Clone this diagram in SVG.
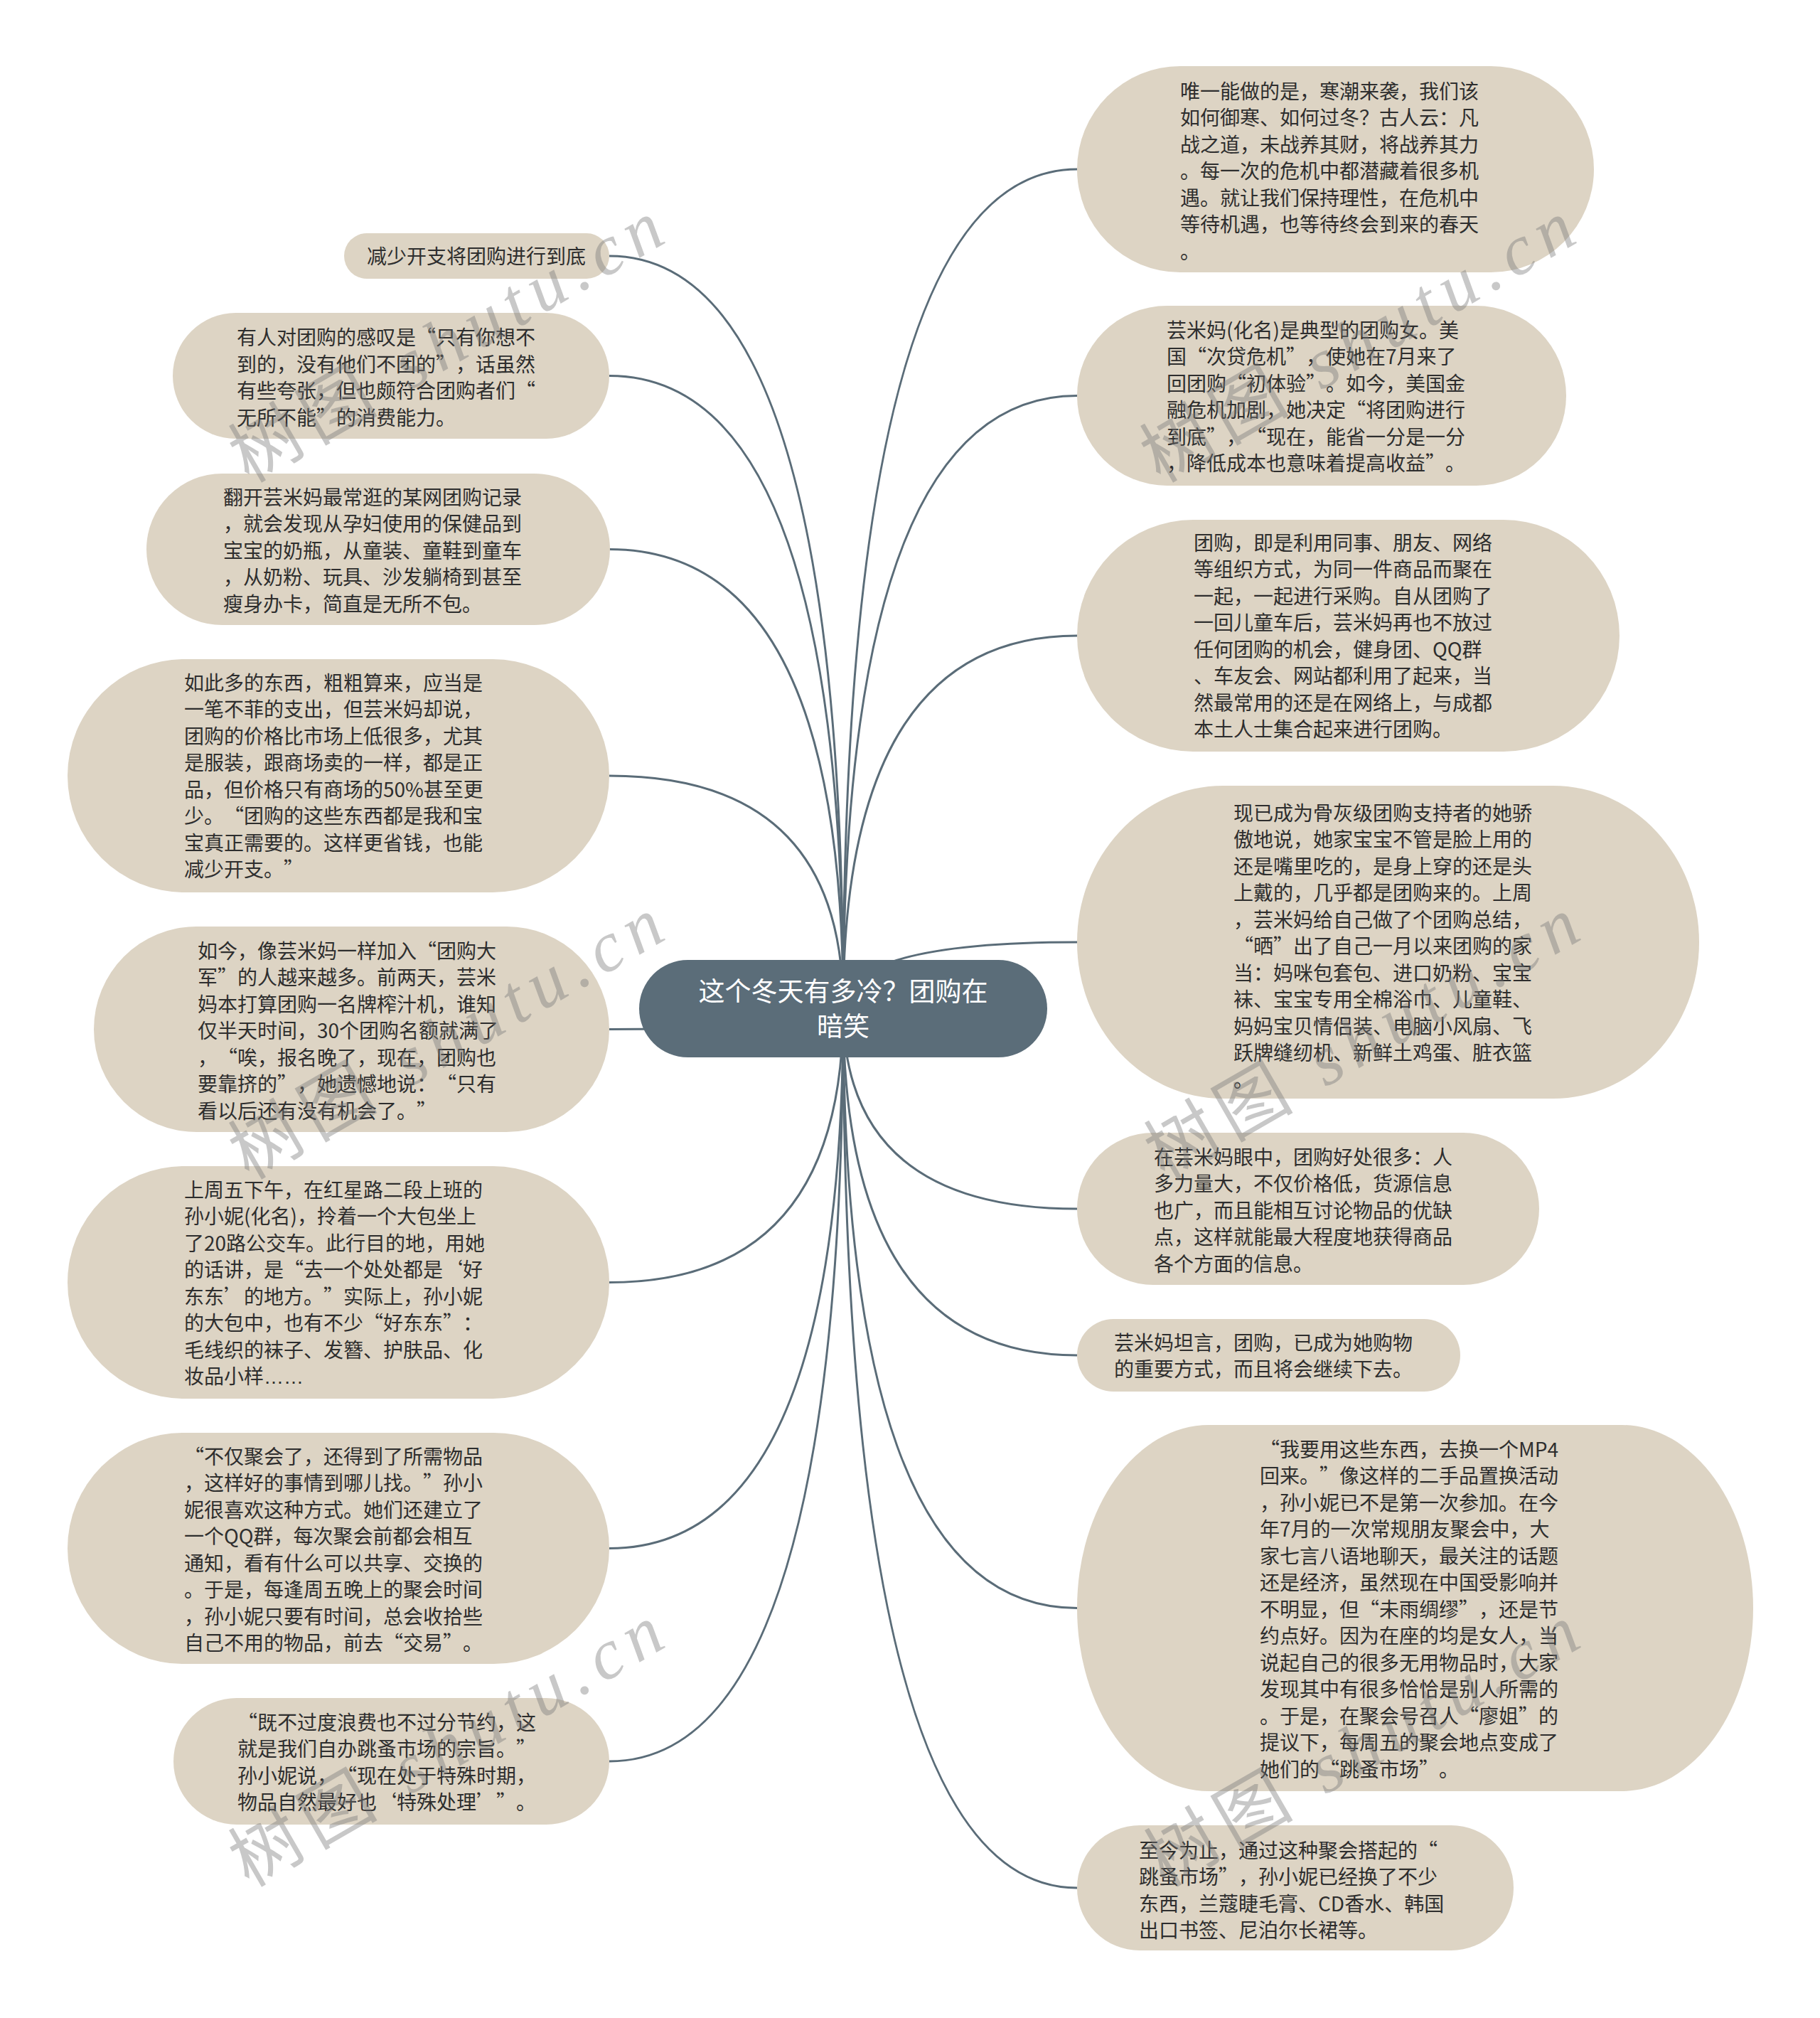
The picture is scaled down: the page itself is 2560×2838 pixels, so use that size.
<svg xmlns="http://www.w3.org/2000/svg" width="2560" height="2838" viewBox="0 0 2560 2838">
<style>
.bg{fill:#ffffff}
.n{fill:#ddd4c4}
.t{font-family:"Noto Sans CJK SC","Liberation Sans",sans-serif;font-size:28px;fill:#2e2e2e;text-spacing-trim:space-all}
.el{font-family:"Liberation Sans",sans-serif}
.root{fill:#5b6d79}
.rt{font-family:"Noto Sans CJK SC","Liberation Sans",sans-serif;font-size:37px;fill:#ffffff;text-anchor:middle;text-spacing-trim:space-all}
.c path{fill:none;stroke:#5a6c78;stroke-width:3}
.wm{font-family:"Liberation Serif","Noto Sans CJK SC",serif;font-size:100px;fill:#777777;opacity:0.4;letter-spacing:12px}
</style>
<rect class="bg" x="0" y="0" width="2560" height="2838"/>
<g id="connectors" class="c">
<path d="M1186,1418 Q1186,360 857,360"/>
<path d="M1186,1418 Q1186,528.5 857,528.5"/>
<path d="M1186,1418 Q1186,772.5 857,772.5"/>
<path d="M1186,1418 Q1186,1091 857,1091"/>
<path d="M1186,1418 Q1186,1447.5 857,1447.5"/>
<path d="M1186,1418 Q1186,1803.5 857,1803.5"/>
<path d="M1186,1418 Q1186,2177.5 857,2177.5"/>
<path d="M1186,1418 Q1186,2477 857,2477"/>
<path d="M1186,1418 Q1186,238 1515,238"/>
<path d="M1186,1418 Q1186,556.5 1515,556.5"/>
<path d="M1186,1418 Q1186,894 1515,894"/>
<path d="M1186,1418 Q1186,1325 1515,1325"/>
<path d="M1186,1418 Q1186,1700 1515,1700"/>
<path d="M1186,1418 Q1186,1906 1515,1906"/>
<path d="M1186,1418 Q1186,2261.5 1515,2261.5"/>
<path d="M1186,1418 Q1186,2655 1515,2655"/>
</g>
<g id="root">
<rect class="root" x="899" y="1350" width="574" height="137" rx="68.5"/>
<text class="rt" x="1186" y="1408">这个冬天有多冷？团购在</text>
<text class="rt" x="1186" y="1457">暗笑</text>
</g>
<g id="L1">
<rect class="n" x="484" y="328" width="373" height="64" rx="32"/>
<text class="t" x="516" y="371">减少开支将团购进行到底</text>
</g>
<g id="L2">
<rect class="n" x="243" y="440" width="614" height="177" rx="88.5"/>
<text class="t" y="485"><tspan x="333">有人对团购的感叹是“只有你想不</tspan><tspan x="333" dy="37.5">到的，没有他们不团的”，话虽然</tspan><tspan x="333" dy="37.5">有些夸张，但也颇符合团购者们“</tspan><tspan x="333" dy="37.5">无所不能”的消费能力。</tspan></text>
</g>
<g id="L3">
<rect class="n" x="206" y="666" width="652" height="213" rx="106.5"/>
<text class="t" y="709.5"><tspan x="314">翻开芸米妈最常逛的某网团购记录</tspan><tspan x="314" dy="37.5">，就会发现从孕妇使用的保健品到</tspan><tspan x="314" dy="37.5">宝宝的奶瓶，从童装、童鞋到童车</tspan><tspan x="314" dy="37.5">，从奶粉、玩具、沙发躺椅到甚至</tspan><tspan x="314" dy="37.5">瘦身办卡，简直是无所不包。</tspan></text>
</g>
<g id="L4">
<rect class="n" x="95" y="927" width="762" height="328" rx="164"/>
<text class="t" y="970.5"><tspan x="259">如此多的东西，粗粗算来，应当是</tspan><tspan x="259" dy="37.5">一笔不菲的支出，但芸米妈却说，</tspan><tspan x="259" dy="37.5">团购的价格比市场上低很多，尤其</tspan><tspan x="259" dy="37.5">是服装，跟商场卖的一样，都是正</tspan><tspan x="259" dy="37.5">品，但价格只有商场的50%甚至更</tspan><tspan x="259" dy="37.5">少。“团购的这些东西都是我和宝</tspan><tspan x="259" dy="37.5">宝真正需要的。这样更省钱，也能</tspan><tspan x="259" dy="37.5">减少开支。”</tspan></text>
</g>
<g id="L5">
<rect class="n" x="132" y="1303" width="725" height="289" rx="144.5"/>
<text class="t" y="1347.5"><tspan x="278">如今，像芸米妈一样加入“团购大</tspan><tspan x="278" dy="37.5">军”的人越来越多。前两天，芸米</tspan><tspan x="278" dy="37.5">妈本打算团购一名牌榨汁机，谁知</tspan><tspan x="278" dy="37.5">仅半天时间，30个团购名额就满了</tspan><tspan x="278" dy="37.5">，“唉，报名晚了，现在，团购也</tspan><tspan x="278" dy="37.5">要靠挤的”，她遗憾地说：“只有</tspan><tspan x="278" dy="37.5">看以后还有没有机会了。”</tspan></text>
</g>
<g id="L6">
<rect class="n" x="95" y="1640" width="762" height="327" rx="163.5"/>
<text class="t" y="1683.5"><tspan x="259">上周五下午，在红星路二段上班的</tspan><tspan x="259" dy="37.5">孙小妮(化名)，拎着一个大包坐上</tspan><tspan x="259" dy="37.5">了20路公交车。此行目的地，用她</tspan><tspan x="259" dy="37.5">的话讲，是“去一个处处都是‘好</tspan><tspan x="259" dy="37.5">东东’的地方。”实际上，孙小妮</tspan><tspan x="259" dy="37.5">的大包中，也有不少“好东东”：</tspan><tspan x="259" dy="37.5">毛线织的袜子、发簪、护肤品、化</tspan><tspan x="259" dy="37.5">妆品小样<tspan class="el">……</tspan></tspan></text>
</g>
<g id="L7">
<rect class="n" x="95" y="2015" width="762" height="325" rx="162.5"/>
<text class="t" y="2058.5"><tspan x="259">“不仅聚会了，还得到了所需物品</tspan><tspan x="259" dy="37.5">，这样好的事情到哪儿找。”孙小</tspan><tspan x="259" dy="37.5">妮很喜欢这种方式。她们还建立了</tspan><tspan x="259" dy="37.5">一个QQ群，每次聚会前都会相互</tspan><tspan x="259" dy="37.5">通知，看有什么可以共享、交换的</tspan><tspan x="259" dy="37.5">。于是，每逢周五晚上的聚会时间</tspan><tspan x="259" dy="37.5">，孙小妮只要有时间，总会收拾些</tspan><tspan x="259" dy="37.5">自己不用的物品，前去“交易”。</tspan></text>
</g>
<g id="L8">
<rect class="n" x="244" y="2388" width="613" height="178" rx="89"/>
<text class="t" y="2432.5"><tspan x="334">“既不过度浪费也不过分节约，这</tspan><tspan x="334" dy="37.5">就是我们自办跳蚤市场的宗旨。”</tspan><tspan x="334" dy="37.5">孙小妮说，“现在处于特殊时期，</tspan><tspan x="334" dy="37.5">物品自然最好也‘特殊处理’”。</tspan></text>
</g>
<g id="R1">
<rect class="n" x="1515" y="93" width="727" height="290" rx="145"/>
<text class="t" y="138.5"><tspan x="1660">唯一能做的是，寒潮来袭，我们该</tspan><tspan x="1660" dy="37.5">如何御寒、如何过冬？古人云：凡</tspan><tspan x="1660" dy="37.5">战之道，未战养其财，将战养其力</tspan><tspan x="1660" dy="37.5">。每一次的危机中都潜藏着很多机</tspan><tspan x="1660" dy="37.5">遇。就让我们保持理性，在危机中</tspan><tspan x="1660" dy="37.5">等待机遇，也等待终会到来的春天</tspan><tspan x="1660" dy="37.5">。</tspan></text>
</g>
<g id="R2">
<rect class="n" x="1515" y="430" width="688" height="253" rx="126.5"/>
<text class="t" y="474.5"><tspan x="1641">芸米妈(化名)是典型的团购女。美</tspan><tspan x="1641" dy="37.5">国“次贷危机”，使她在7月来了</tspan><tspan x="1641" dy="37.5">回团购“初体验”。如今，美国金</tspan><tspan x="1641" dy="37.5">融危机加剧，她决定“将团购进行</tspan><tspan x="1641" dy="37.5">到底”，“现在，能省一分是一分</tspan><tspan x="1641" dy="37.5">，降低成本也意味着提高收益”。</tspan></text>
</g>
<g id="R3">
<rect class="n" x="1515" y="731" width="763" height="326" rx="163"/>
<text class="t" y="773.5"><tspan x="1679">团购，即是利用同事、朋友、网络</tspan><tspan x="1679" dy="37.5">等组织方式，为同一件商品而聚在</tspan><tspan x="1679" dy="37.5">一起，一起进行采购。自从团购了</tspan><tspan x="1679" dy="37.5">一回儿童车后，芸米妈再也不放过</tspan><tspan x="1679" dy="37.5">任何团购的机会，健身团、QQ群</tspan><tspan x="1679" dy="37.5">、车友会、网站都利用了起来，当</tspan><tspan x="1679" dy="37.5">然最常用的还是在网络上，与成都</tspan><tspan x="1679" dy="37.5">本土人士集合起来进行团购。</tspan></text>
</g>
<g id="R4">
<rect class="n" x="1515" y="1105" width="875" height="440" rx="205" ry="220"/>
<text class="t" y="1153.5"><tspan x="1735">现已成为骨灰级团购支持者的她骄</tspan><tspan x="1735" dy="37.5">傲地说，她家宝宝不管是脸上用的</tspan><tspan x="1735" dy="37.5">还是嘴里吃的，是身上穿的还是头</tspan><tspan x="1735" dy="37.5">上戴的，几乎都是团购来的。上周</tspan><tspan x="1735" dy="37.5">，芸米妈给自己做了个团购总结，</tspan><tspan x="1735" dy="37.5">“晒”出了自己一月以来团购的家</tspan><tspan x="1735" dy="37.5">当：妈咪包套包、进口奶粉、宝宝</tspan><tspan x="1735" dy="37.5">袜、宝宝专用全棉浴巾、儿童鞋、</tspan><tspan x="1735" dy="37.5">妈妈宝贝情侣装、电脑小风扇、飞</tspan><tspan x="1735" dy="37.5">跃牌缝纫机、新鲜土鸡蛋、脏衣篮</tspan><tspan x="1735" dy="37.5">。</tspan></text>
</g>
<g id="R5">
<rect class="n" x="1515" y="1593" width="650" height="214" rx="107"/>
<text class="t" y="1637.5"><tspan x="1623">在芸米妈眼中，团购好处很多：人</tspan><tspan x="1623" dy="37.5">多力量大，不仅价格低，货源信息</tspan><tspan x="1623" dy="37.5">也广，而且能相互讨论物品的优缺</tspan><tspan x="1623" dy="37.5">点，这样就能最大程度地获得商品</tspan><tspan x="1623" dy="37.5">各个方面的信息。</tspan></text>
</g>
<g id="R6">
<rect class="n" x="1515" y="1855" width="539" height="102" rx="51"/>
<text class="t" y="1898.5"><tspan x="1567">芸米妈坦言，团购，已成为她购物</tspan><tspan x="1567" dy="37.5">的重要方式，而且将会继续下去。</tspan></text>
</g>
<g id="R7">
<rect class="n" x="1515" y="2004" width="951" height="515" rx="185" ry="257.5"/>
<text class="t" y="2048.5"><tspan x="1772">“我要用这些东西，去换一个MP4</tspan><tspan x="1772" dy="37.5">回来。”像这样的二手品置换活动</tspan><tspan x="1772" dy="37.5">，孙小妮已不是第一次参加。在今</tspan><tspan x="1772" dy="37.5">年7月的一次常规朋友聚会中，大</tspan><tspan x="1772" dy="37.5">家七言八语地聊天，最关注的话题</tspan><tspan x="1772" dy="37.5">还是经济，虽然现在中国受影响并</tspan><tspan x="1772" dy="37.5">不明显，但“未雨绸缪”，还是节</tspan><tspan x="1772" dy="37.5">约点好。因为在座的均是女人，当</tspan><tspan x="1772" dy="37.5">说起自己的很多无用物品时，大家</tspan><tspan x="1772" dy="37.5">发现其中有很多恰恰是别人所需的</tspan><tspan x="1772" dy="37.5">。于是，在聚会号召人“廖姐”的</tspan><tspan x="1772" dy="37.5">提议下，每周五的聚会地点变成了</tspan><tspan x="1772" dy="37.5">她们的“跳蚤市场”。</tspan></text>
</g>
<g id="R8">
<rect class="n" x="1515" y="2567" width="614" height="176" rx="88"/>
<text class="t" y="2612.5"><tspan x="1602">至今为止，通过这种聚会搭起的“</tspan><tspan x="1602" dy="37.5">跳蚤市场”，孙小妮已经换了不少</tspan><tspan x="1602" dy="37.5">东西，兰蔻睫毛膏、CD香水、韩国</tspan><tspan x="1602" dy="37.5">出口书签、尼泊尔长裙等。</tspan></text>
</g>
<g id="watermarks">
<text class="wm" transform="translate(350,680) rotate(-30)">树图 <tspan font-style="italic">shutu.cn</tspan></text>
<text class="wm" transform="translate(1632,680) rotate(-30)">树图 <tspan font-style="italic">shutu.cn</tspan></text>
<text class="wm" transform="translate(350,1660) rotate(-30)">树图 <tspan font-style="italic">shutu.cn</tspan></text>
<text class="wm" transform="translate(1638,1660) rotate(-30)">树图 <tspan font-style="italic">shutu.cn</tspan></text>
<text class="wm" transform="translate(350,2655) rotate(-30)">树图 <tspan font-style="italic">shutu.cn</tspan></text>
<text class="wm" transform="translate(1638,2655) rotate(-30)">树图 <tspan font-style="italic">shutu.cn</tspan></text>
</g>
</svg>
